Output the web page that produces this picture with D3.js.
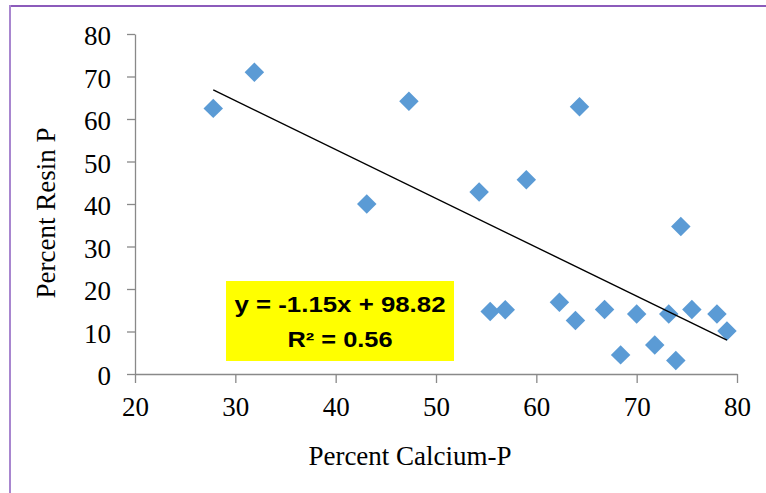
<!DOCTYPE html>
<html>
<head>
<meta charset="utf-8">
<script src="https://cdn.jsdelivr.net/npm/d3@7"></script>
<style>
  html, body { margin: 0; padding: 0; background: #ffffff; }
  svg { display: block; }
  .axis text { font-family: "Liberation Serif", "Times New Roman", serif; font-size: 27px; fill: #000; }
  .axis path, .axis line { stroke: #898989; stroke-width: 1.3; }
  .title { font-family: "Liberation Serif", "Times New Roman", serif; font-size: 27px; fill: #000; }
  .eq { font-family: "Liberation Sans", Arial, sans-serif; font-weight: bold; font-size: 21.5px; fill: #000; }
</style>
</head>
<body>
<svg id="chart" width="766" height="493"></svg>
<script>
// Calcium-P vs. resin-extractable P, as percentages
const calciumP = [27.8, 31.9, 43.1, 47.3, 54.3, 55.4, 56.9, 59.0, 62.3, 63.9, 64.3,
                  66.8, 68.4, 70.0, 71.8, 73.2, 73.9, 74.4, 75.5, 78.0, 79.0];
const resinP   = [62.5, 71.0, 40.0, 64.2, 42.8, 14.7, 15.1, 45.7, 16.9, 12.6, 62.9,
                  15.2, 4.5, 14.1, 6.8, 14.1, 3.2, 34.7, 15.2, 14.1, 10.1];

// Linear fit shown in the label
const slope = -1.15;
const intercept = 98.82;
const rSquared = 0.56;

const xTicks = [20, 30, 40, 50, 60, 70, 80];
const yTicks = [0, 10, 20, 30, 40, 50, 60, 70, 80];

const svg = d3.select("#chart");

// Frame edges
svg.append("line").attr("x1", 10).attr("x2", 766).attr("y1", 6).attr("y2", 6)
  .attr("stroke", "#8c5bbb").attr("stroke-width", 2);
svg.append("line").attr("x1", 10).attr("x2", 10).attr("y1", 5).attr("y2", 493)
  .attr("stroke", "#a886cf").attr("stroke-width", 2);

const x = d3.scaleLinear().domain([20, 80]).range([135, 737]);
const y = d3.scaleLinear().domain([0, 80]).range([374, 34]);

// Axes
svg.append("g").attr("class", "axis")
  .attr("transform", `translate(0,${y(0)})`)
  .call(d3.axisBottom(x).tickValues(xTicks).tickSize(9).tickSizeOuter(0).tickPadding(14));

const yAxis = svg.append("g").attr("class", "axis")
  .attr("transform", `translate(${x(20)},0)`)
  .call(d3.axisLeft(y).tickValues(yTicks).tickSize(8).tickSizeOuter(0).tickPadding(16));
yAxis.selectAll("text").attr("dy", "0.4em");

// Axis titles
svg.append("text").attr("class", "title")
  .attr("x", 410).attr("y", 465).attr("text-anchor", "middle")
  .text("Percent Calcium-P");
svg.append("text").attr("class", "title")
  .attr("transform", "translate(55,213) rotate(-90)")
  .attr("text-anchor", "middle")
  .text("Percent Resin P");

// Points
const data = calciumP.map((c, i) => ({ c, r: resinP[i] }));
svg.append("g").selectAll("path")
  .data(data)
  .join("path")
  .attr("transform", d => `translate(${x(d.c)},${y(d.r)}) rotate(45)`)
  .attr("d", d3.symbol(d3.symbolSquare, 190)())
  .attr("fill", "#5b9bd5");

// Trend line across the range of the data
const [xMin, xMax] = d3.extent(calciumP);
svg.append("line")
  .attr("x1", x(xMin)).attr("y1", y(slope * xMin + intercept))
  .attr("x2", x(xMax)).attr("y2", y(slope * xMax + intercept))
  .attr("stroke", "#000").attr("stroke-width", 1.4);

// Equation label
svg.append("rect")
  .attr("x", 226).attr("y", 281).attr("width", 228).attr("height", 80)
  .attr("fill", "#ffff00");
svg.append("text").attr("class", "eq")
  .attr("x", 340).attr("y", 312).attr("text-anchor", "middle")
  .attr("textLength", 211).attr("lengthAdjust", "spacingAndGlyphs")
  .text(`y = ${slope.toFixed(2)}x + ${intercept.toFixed(2)}`);
svg.append("text").attr("class", "eq")
  .attr("x", 340).attr("y", 347).attr("text-anchor", "middle")
  .attr("textLength", 105).attr("lengthAdjust", "spacingAndGlyphs")
  .text(`R² = ${rSquared.toFixed(2)}`);
</script>
</body>
</html>
